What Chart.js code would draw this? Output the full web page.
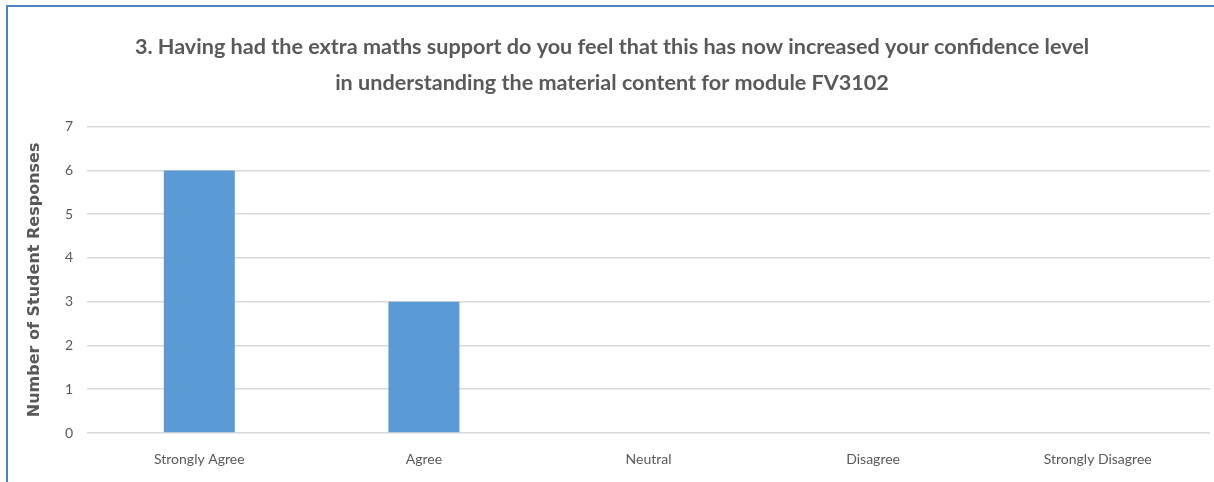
<!DOCTYPE html>
<html>
<head>
<meta charset="utf-8">
<script src="https://cdn.jsdelivr.net/npm/chart.js@4"></script>
<style>
  html, body { margin: 0; padding: 0; background: #ffffff; }
  #wrap { position: relative; width: 1214px; height: 482px; overflow: hidden; background: #ffffff; }
  #frame { position: absolute; left: 6px; top: 5px; right: -4px; bottom: -4px; border-top: 2px solid #4f81bd; border-left: 2px solid #4f81bd; pointer-events: none; }
  canvas { position: absolute; left: 0; top: 0; }
</style>
</head>
<body>
<div id="wrap">
  <canvas id="chart" width="1214" height="482"></canvas>
  <div id="frame"></div>
</div>
<script>
// Survey responses to question 3
const titleLines = [
  '3. Having had the extra maths support do you feel that this has now increased your confidence level',
  'in understanding the material content for module FV3102'
];
const categories = ['Strongly Agree', 'Agree', 'Neutral', 'Disagree', 'Strongly Disagree'];
const responses = [6, 3, 0, 0, 0];
const yTicks = [0, 1, 2, 3, 4, 5, 6, 7];
const yAxisTitle = 'Number of Student Responses';

const textGrey = '#595959';

new Chart(document.getElementById('chart'), {
  type: 'bar',
  data: {
    labels: categories,
    datasets: [{
      data: responses,
      backgroundColor: '#5b9bd5',
      borderWidth: 0,
      categoryPercentage: 1,
      barPercentage: 0.316
    }]
  },
  options: {
    responsive: false,
    animation: false,
    layout: { padding: { left: 14, right: 4, top: 0, bottom: 0 } },
    plugins: {
      legend: { display: false },
      tooltip: { enabled: false },
      title: {
        display: true,
        text: titleLines,
        color: textGrey,
        font: { family: 'Lato', size: 21.6, weight: 'bold', lineHeight: 1.66 },
        padding: { top: 29, bottom: 26 }
      }
    },
    scales: {
      x: {
        grid: { display: false, drawTicks: false },
        border: { display: false },
        ticks: {
          color: textGrey,
          font: { family: 'Lato', size: 14 },
          padding: 18,
          maxRotation: 0
        },
        afterFit: (s) => { s.height = 49; }
      },
      y: {
        min: 0,
        max: 7,
        afterBuildTicks: (s) => { s.ticks = yTicks.map(v => ({ value: v })); },
        grid: { color: '#d9d9d9', lineWidth: 1.5, drawTicks: false },
        border: { display: false },
        ticks: {
          color: textGrey,
          font: { family: 'Lato', size: 14 },
          padding: 14
        },
        title: {
          display: true,
          text: yAxisTitle,
          color: textGrey,
          font: { family: 'DejaVu Sans', size: 16, weight: 'bold' },
          padding: { top: 11, bottom: 0 }
        },
        afterFit: (s) => { s.width = 73; }
      }
    }
  }
});
</script>
</body>
</html>
